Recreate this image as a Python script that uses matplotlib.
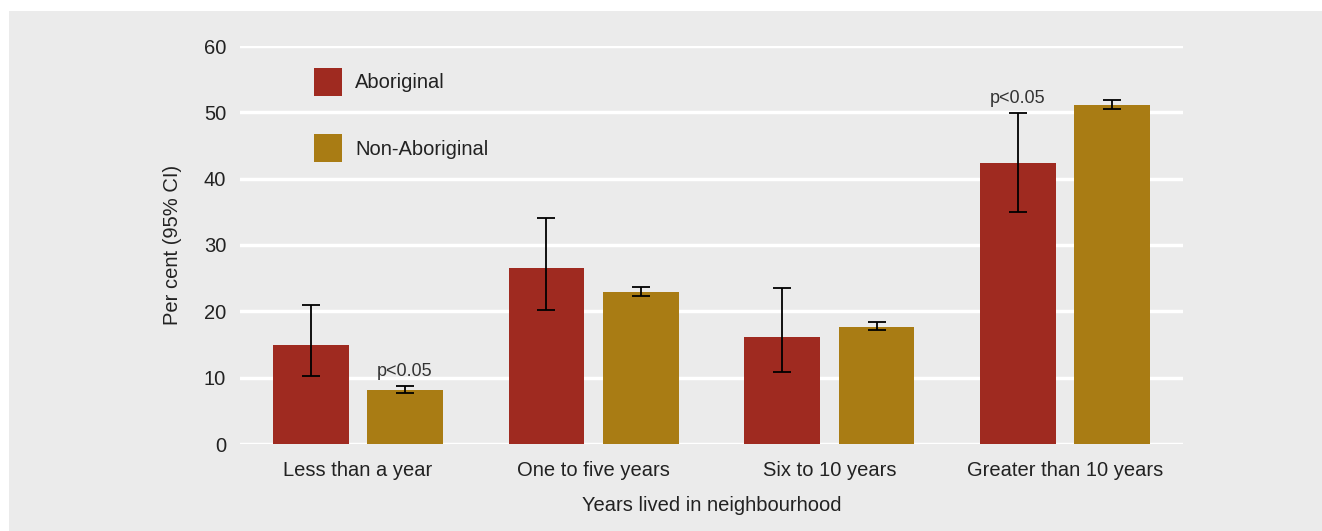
import matplotlib.pyplot as plt
import numpy as np
from matplotlib.patches import Rectangle, Patch

plt.rcParams['font.family'] = ['Liberation Sans', 'DejaVu Sans']

categories = ['Less than a year', 'One to five years', 'Six to 10 years', 'Greater than 10 years']
aboriginal = [14.9, 26.5, 16.2, 42.4]
aboriginal_lo = [10.2, 20.2, 10.9, 35.0]
aboriginal_hi = [21.0, 34.0, 23.5, 49.9]
non_aboriginal = [8.2, 22.9, 17.7, 51.1]
non_aboriginal_lo = [7.7, 22.3, 17.2, 50.5]
non_aboriginal_hi = [8.8, 23.6, 18.4, 51.8]
# significance flags: (series, category index)
sig_notes = [('non', 0), ('abo', 3)]

col_abo = '#9F2A20'
col_non = '#A97C14'
panel = '#EBEBEB'
txt = '#222222'

fig = plt.figure(figsize=(13.22, 5.31), dpi=100)
bg = Rectangle((9 / 1322, 0), 1 - 9 / 1322, 1 - 11 / 531,
               transform=fig.transFigure, facecolor=panel, edgecolor='none')
bg.set_zorder(-10)
fig.add_artist(bg)
ax = fig.add_axes([240 / 1322, 1 - 444 / 531, 943 / 1322, 398 / 531])
ax.patch.set_alpha(0)

x = np.arange(len(categories))
off = 0.2
w = 0.322
err_abo = [np.array(aboriginal) - np.array(aboriginal_lo), np.array(aboriginal_hi) - np.array(aboriginal)]
err_non = [np.array(non_aboriginal) - np.array(non_aboriginal_lo), np.array(non_aboriginal_hi) - np.array(non_aboriginal)]
ekw = dict(ecolor='black', elinewidth=1.3, capsize=6.5, capthick=1.3)
ax.bar(x - off, aboriginal, w, color=col_abo, yerr=err_abo, error_kw=ekw, zorder=3)
ax.bar(x + off, non_aboriginal, w, color=col_non, yerr=err_non, error_kw=ekw, zorder=3)

for series, i in sig_notes:
    if series == 'abo':
        xx, top = x[i] - off, aboriginal_hi[i]
    else:
        xx, top = x[i] + off, non_aboriginal_hi[i]
    ax.annotate('p<0.05', (xx, top), xytext=(0, 4), textcoords='offset points',
                ha='center', va='bottom', fontsize=13, color='#333333', zorder=4)

ax.set_xlim(-0.5, 3.5)
ax.set_ylim(0, 60)
ax.set_yticks(range(0, 61, 10))
ax.set_xticks(x)
ax.set_xticklabels(categories)
ax.tick_params(axis='both', length=0, labelsize=14.5, labelcolor=txt)
ax.tick_params(axis='x', pad=12)
ax.tick_params(axis='y', pad=10)
ax.grid(axis='y', color='white', linewidth=2.5, zorder=1)
ax.set_axisbelow(True)
for s in ax.spines.values():
    s.set_visible(False)
ax.set_ylabel('Per cent (95% CI)', fontsize=14.5, color=txt, labelpad=16)
ax.set_xlabel('Years lived in neighbourhood', fontsize=14.5, color=txt, labelpad=12)

handles = [Patch(facecolor=col_abo, label='Aboriginal'),
           Patch(facecolor=col_non, label='Non-Aboriginal')]
leg = ax.legend(handles=handles, loc='upper left',
                bbox_to_anchor=(314 / 1322, 1 - 68 / 531), bbox_transform=fig.transFigure,
                frameon=False, fontsize=14.5, handlelength=1.4, handleheight=1.75,
                handletextpad=0.65, labelspacing=1.9, borderpad=0, borderaxespad=0)
for t in leg.get_texts():
    t.set_color(txt)

fig.savefig('out.png', dpi=100, facecolor='white')
